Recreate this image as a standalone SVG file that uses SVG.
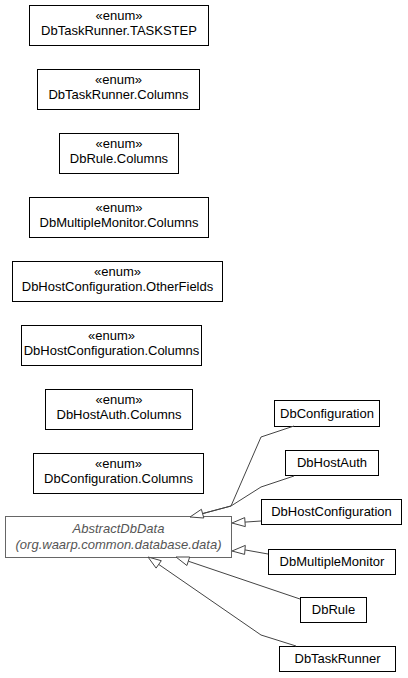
<svg xmlns="http://www.w3.org/2000/svg" width="408" height="678" viewBox="0 0 408 678">
  <style>
    text { font-family: "Liberation Sans", Arial, sans-serif; font-size: 13px; fill: #000; text-anchor: middle; }
    .box { fill: #fff; stroke: #000; stroke-width: 1; }
    .abs { fill: #fff; stroke: #666; stroke-width: 1; }
    .abs-t { font-style: italic; fill: #555; }
    .edge { fill: none; stroke: #444; stroke-width: 1; }
    .head { fill: #fff; stroke: #444; stroke-width: 1; }
  </style>
  <rect width="408" height="678" fill="#fff"/>

  <!-- enum nodes -->
  <g id="DbTaskRunner.TASKSTEP">
    <rect class="box" x="29.5" y="5.5" width="179" height="40"/>
    <text x="119" y="20">«enum»</text>
    <text x="119" y="35">DbTaskRunner.TASKSTEP</text>
  </g>
  <g id="DbTaskRunner.Columns">
    <rect class="box" x="37.5" y="69.5" width="162" height="40"/>
    <text x="118.5" y="84">«enum»</text>
    <text x="118.5" y="99">DbTaskRunner.Columns</text>
  </g>
  <g id="DbRule.Columns">
    <rect class="box" x="59.5" y="133.5" width="119" height="40"/>
    <text x="119" y="148">«enum»</text>
    <text x="119" y="163">DbRule.Columns</text>
  </g>
  <g id="DbMultipleMonitor.Columns">
    <rect class="box" x="29.5" y="197.5" width="179" height="40"/>
    <text x="119" y="212">«enum»</text>
    <text x="119" y="227">DbMultipleMonitor.Columns</text>
  </g>
  <g id="DbHostConfiguration.OtherFields">
    <rect class="box" x="12.5" y="261.5" width="210" height="40"/>
    <text x="117.5" y="276">«enum»</text>
    <text x="117.5" y="291">DbHostConfiguration.OtherFields</text>
  </g>
  <g id="DbHostConfiguration.Columns">
    <rect class="box" x="21.5" y="325.5" width="180" height="40"/>
    <text x="111.5" y="340">«enum»</text>
    <text x="111.5" y="355">DbHostConfiguration.Columns</text>
  </g>
  <g id="DbHostAuth.Columns">
    <rect class="box" x="45.5" y="389.5" width="147" height="40"/>
    <text x="119" y="404">«enum»</text>
    <text x="119" y="419">DbHostAuth.Columns</text>
  </g>
  <g id="DbConfiguration.Columns">
    <rect class="box" x="33.5" y="453.5" width="170" height="40"/>
    <text x="118.5" y="468">«enum»</text>
    <text x="118.5" y="483">DbConfiguration.Columns</text>
  </g>

  <!-- abstract base class -->
  <g id="AbstractDbData">
    <rect class="abs" x="5.5" y="516.5" width="226" height="41"/>
    <text class="abs-t" x="118.5" y="533">AbstractDbData</text>
    <text class="abs-t" x="118.5" y="549">(org.waarp.common.database.data)</text>
  </g>

  <!-- concrete subclasses -->
  <g id="DbConfiguration">
    <rect class="box" x="274.5" y="400.5" width="105" height="26"/>
    <text x="327" y="418">DbConfiguration</text>
  </g>
  <g id="DbHostAuth">
    <rect class="box" x="285.5" y="450.5" width="93" height="25"/>
    <text x="332" y="467">DbHostAuth</text>
  </g>
  <g id="DbHostConfiguration">
    <rect class="box" x="261.5" y="499.5" width="140" height="25"/>
    <text x="331.5" y="516">DbHostConfiguration</text>
  </g>
  <g id="DbMultipleMonitor">
    <rect class="box" x="268.5" y="549.5" width="127" height="25"/>
    <text x="332" y="566">DbMultipleMonitor</text>
  </g>
  <g id="DbRule">
    <rect class="box" x="300.5" y="597.5" width="66" height="25"/>
    <text x="333.5" y="614">DbRule</text>
  </g>
  <g id="DbTaskRunner">
    <rect class="box" x="279.5" y="646.5" width="116" height="25"/>
    <text x="337.5" y="663">DbTaskRunner</text>
  </g>

  <!-- generalization connectors -->
  <g id="edges">
    <polyline class="edge" points="294,426 261,437 231,506 202.6,513.6"/>
    <polyline class="edge" points="294,476 261,487 231,506 202.6,513.6"/>
    <polygon class="head" points="190,517 203.8,518 201.4,509.3"/>

    <polyline class="edge" points="261,521 245,522.1"/>
    <polygon class="head" points="232,523 245.3,526.6 244.7,517.6"/>

    <polyline class="edge" points="268,554 245,549.9"/>
    <polygon class="head" points="232,551 245.3,545.4 244.6,554.4"/>

    <polyline class="edge" points="300,599 188.3,561.2"/>
    <polygon class="head" points="176,557 189.7,557 186.9,565.5"/>

    <polyline class="edge" points="296,646 261,635 158.7,564.4"/>
    <polygon class="head" points="148,557 161.3,560.7 156.1,568.1"/>
  </g>
</svg>
